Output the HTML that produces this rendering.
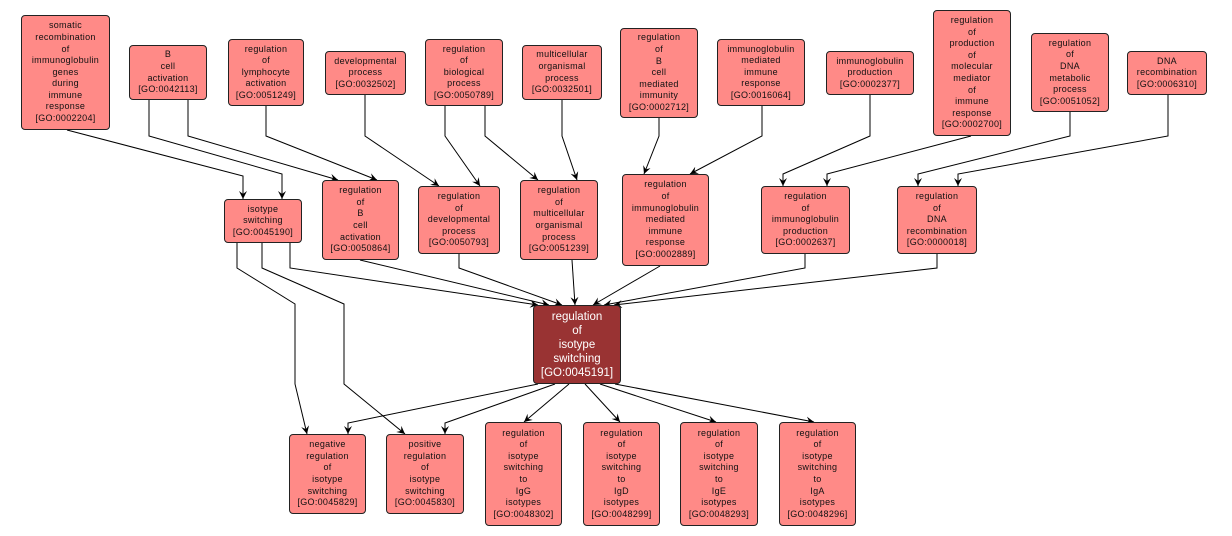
<!DOCTYPE html>
<html><head><meta charset="utf-8"><style>
body{margin:0;background:#fff;width:1232px;height:536px;position:relative;overflow:hidden;font-family:"Liberation Sans","DejaVu Sans",sans-serif}
.n{position:absolute;box-sizing:border-box;background:#ff8a87;border:1px solid #222;border-radius:4px;display:flex;align-items:center;justify-content:center;text-align:center;font-size:9px;line-height:11.6px;color:#111;letter-spacing:0.3px}
.c{background:#993333;color:#fff;font-size:11.5px;line-height:14px;letter-spacing:0}
svg{position:absolute;left:0;top:0}
</style></head><body>
<svg width="1232" height="536">
<defs><marker id="a" markerWidth="10" markerHeight="10" refX="8" refY="4" orient="auto" markerUnits="userSpaceOnUse"><path d="M0,0 L8,4 L0,8 L3,4 z" fill="#000"/></marker></defs>
<g fill="none" stroke="#000" stroke-width="1" marker-end="url(#a)">
<polyline points="67,130 243,176 243,199"/>
<polyline points="149,100 149,136 282,174 282,199"/>
<polyline points="188,100 188,136 338,180"/>
<polyline points="266,106 266,136 377,180"/>
<polyline points="365,95 365,136 439,186"/>
<polyline points="445,106 445,136 480,186"/>
<polyline points="485,106 485,136 538,180"/>
<polyline points="562,100 562,136 577,180"/>
<polyline points="659,118 659,136 644,174"/>
<polyline points="762,106 762,136 690,174"/>
<polyline points="870,95 870,136 783,174 783,186"/>
<polyline points="971,136 827,174 827,186"/>
<polyline points="1070,112 1070,136 918,174 918,186"/>
<polyline points="1168,95 1168,136 958,174 958,186"/>
<polyline points="290,243 290,268 538,305"/>
<polyline points="360,260 549,305"/>
<polyline points="459,254 459,268 562,305"/>
<polyline points="572,260 575,305"/>
<polyline points="660,266 593,305"/>
<polyline points="805,254 805,268 604,305"/>
<polyline points="937,254 937,268 614,305"/>
<polyline points="237,243 237,268 295,304 295,384 307,434"/>
<polyline points="262,243 262,268 344,304 344,384 405,434"/>
<polyline points="538,384 348,423 348,434"/>
<polyline points="555,384 445,423 445,434"/>
<polyline points="569,384 524,422"/>
<polyline points="585,384 620,422"/>
<polyline points="600,384 716,422"/>
<polyline points="615,384 814,422"/>
</g>
</svg>
<div class="n" style="left:21px;top:15px;width:89px;height:115px">somatic<br>recombination<br>of<br>immunoglobulin<br>genes<br>during<br>immune<br>response<br>[GO:0002204]</div>
<div class="n" style="left:129px;top:45px;width:78px;height:55px">B<br>cell<br>activation<br>[GO:0042113]</div>
<div class="n" style="left:228px;top:39px;width:76px;height:67px">regulation<br>of<br>lymphocyte<br>activation<br>[GO:0051249]</div>
<div class="n" style="left:325px;top:51px;width:81px;height:44px">developmental<br>process<br>[GO:0032502]</div>
<div class="n" style="left:425px;top:39px;width:78px;height:67px">regulation<br>of<br>biological<br>process<br>[GO:0050789]</div>
<div class="n" style="left:522px;top:45px;width:80px;height:55px">multicellular<br>organismal<br>process<br>[GO:0032501]</div>
<div class="n" style="left:620px;top:28px;width:78px;height:90px">regulation<br>of<br>B<br>cell<br>mediated<br>immunity<br>[GO:0002712]</div>
<div class="n" style="left:717px;top:39px;width:88px;height:67px">immunoglobulin<br>mediated<br>immune<br>response<br>[GO:0016064]</div>
<div class="n" style="left:826px;top:51px;width:88px;height:44px">immunoglobulin<br>production<br>[GO:0002377]</div>
<div class="n" style="left:933px;top:10px;width:78px;height:126px">regulation<br>of<br>production<br>of<br>molecular<br>mediator<br>of<br>immune<br>response<br>[GO:0002700]</div>
<div class="n" style="left:1031px;top:33px;width:78px;height:79px">regulation<br>of<br>DNA<br>metabolic<br>process<br>[GO:0051052]</div>
<div class="n" style="left:1127px;top:51px;width:80px;height:44px">DNA<br>recombination<br>[GO:0006310]</div>
<div class="n" style="left:224px;top:199px;width:78px;height:44px">isotype<br>switching<br>[GO:0045190]</div>
<div class="n" style="left:322px;top:180px;width:77px;height:80px">regulation<br>of<br>B<br>cell<br>activation<br>[GO:0050864]</div>
<div class="n" style="left:418px;top:186px;width:82px;height:68px">regulation<br>of<br>developmental<br>process<br>[GO:0050793]</div>
<div class="n" style="left:520px;top:180px;width:78px;height:80px">regulation<br>of<br>multicellular<br>organismal<br>process<br>[GO:0051239]</div>
<div class="n" style="left:622px;top:174px;width:87px;height:92px">regulation<br>of<br>immunoglobulin<br>mediated<br>immune<br>response<br>[GO:0002889]</div>
<div class="n" style="left:761px;top:186px;width:89px;height:68px">regulation<br>of<br>immunoglobulin<br>production<br>[GO:0002637]</div>
<div class="n" style="left:897px;top:186px;width:80px;height:68px">regulation<br>of<br>DNA<br>recombination<br>[GO:0000018]</div>
<div class="n c" style="left:533px;top:305px;width:88px;height:79px">regulation<br>of<br>isotype<br>switching<br>[GO:0045191]</div>
<div class="n" style="left:289px;top:434px;width:77px;height:80px">negative<br>regulation<br>of<br>isotype<br>switching<br>[GO:0045829]</div>
<div class="n" style="left:386px;top:434px;width:78px;height:80px">positive<br>regulation<br>of<br>isotype<br>switching<br>[GO:0045830]</div>
<div class="n" style="left:485px;top:422px;width:77px;height:104px">regulation<br>of<br>isotype<br>switching<br>to<br>IgG<br>isotypes<br>[GO:0048302]</div>
<div class="n" style="left:583px;top:422px;width:77px;height:104px">regulation<br>of<br>isotype<br>switching<br>to<br>IgD<br>isotypes<br>[GO:0048299]</div>
<div class="n" style="left:680px;top:422px;width:78px;height:104px">regulation<br>of<br>isotype<br>switching<br>to<br>IgE<br>isotypes<br>[GO:0048293]</div>
<div class="n" style="left:779px;top:422px;width:77px;height:104px">regulation<br>of<br>isotype<br>switching<br>to<br>IgA<br>isotypes<br>[GO:0048296]</div>
</body></html>
